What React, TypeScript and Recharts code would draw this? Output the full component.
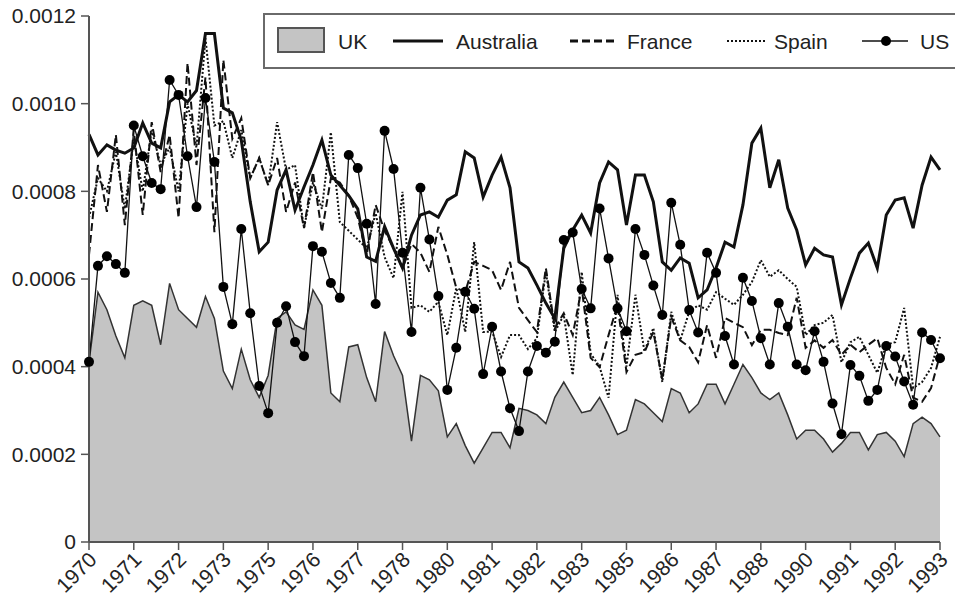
import { Area, ComposedChart, Legend, Line, XAxis, YAxis } from "recharts";

const FONT = "'Liberation Sans', Arial, Helvetica, sans-serif";

// quarterly observations, 1970 Q1 .. 1993 Q4 (one tick every 5 quarters)
const TICK_POS = [0, 5, 10, 15, 20, 25, 30, 35, 40, 45, 50, 55, 60, 65, 70, 75, 80, 85, 90, 95];
const TICK_LABELS = [
  "1970", "1971", "1972", "1973", "1975", "1976", "1977", "1978", "1980", "1981",
  "1982", "1983", "1985", "1986", "1987", "1988", "1990", "1991", "1992", "1993",
];
const Y_TICKS = [0, 0.0002, 0.0004, 0.0006, 0.0008, 0.001, 0.0012];

const UK = [
  0.00041, 0.00057, 0.00053, 0.00047, 0.00042, 0.00054, 0.00055, 0.00054, 0.00045, 0.00059,
  0.00053, 0.00051, 0.00049, 0.00056, 0.00051, 0.00039, 0.00035, 0.00044, 0.00037, 0.00033,
  0.00038, 0.00051, 0.000525, 0.000495, 0.000485, 0.000575, 0.00054, 0.00034, 0.00032, 0.000445,
  0.00045, 0.000375, 0.00032, 0.00048, 0.000425, 0.00038, 0.00023, 0.00038, 0.00037, 0.000345,
  0.00024, 0.00027, 0.00022, 0.00018, 0.000215, 0.00025, 0.00025, 0.000215, 0.000305, 0.0003,
  0.00029, 0.00027, 0.00033, 0.000365, 0.00033, 0.000295, 0.0003, 0.00033, 0.00029, 0.000245,
  0.000255, 0.000325, 0.000315, 0.000295, 0.000275, 0.00035, 0.00034, 0.000295, 0.000315, 0.00036,
  0.00036, 0.000315, 0.00036, 0.000405, 0.000375, 0.00034, 0.000325, 0.00034, 0.00029, 0.000235,
  0.000255, 0.000255, 0.000235, 0.000205, 0.000225, 0.00025, 0.00025, 0.00021, 0.000245, 0.00025,
  0.00023, 0.000195, 0.00027, 0.000285, 0.00027, 0.00024,
];

const AUSTRALIA = [
  0.00093, 0.000883, 0.000906, 0.000894, 0.000887, 0.000899, 0.000956, 0.00091, 0.000899, 0.001004,
  0.00102, 0.001004, 0.00103, 0.00116, 0.00116, 0.00099, 0.000979, 0.000917, 0.000776, 0.000662,
  0.000684, 0.000803, 0.000849, 0.000757, 0.00081, 0.00086, 0.000917, 0.000837, 0.000814, 0.00079,
  0.00076, 0.00065, 0.00064, 0.00072, 0.00067, 0.000625, 0.0007, 0.000746, 0.000753, 0.000741,
  0.00078, 0.000792, 0.00089, 0.000876, 0.000787, 0.000837, 0.000878, 0.000808, 0.000639, 0.000625,
  0.000586, 0.000545, 0.00051, 0.00067, 0.000712, 0.000746, 0.000705, 0.000819, 0.000867, 0.000849,
  0.000723, 0.000837, 0.000837, 0.000776, 0.000639, 0.00062, 0.000648, 0.000636, 0.000557, 0.000575,
  0.000625, 0.000684, 0.000673, 0.000769, 0.00091, 0.000944, 0.000808, 0.000872, 0.000762, 0.000712,
  0.000632, 0.00067, 0.000655, 0.00065, 0.000541, 0.000602, 0.000659, 0.000682, 0.000625, 0.000746,
  0.00078, 0.000785, 0.000716, 0.000814, 0.000878, 0.000849,
];

const FRANCE = [
  0.000655, 0.00086, 0.000753, 0.000929, 0.000723, 0.00094, 0.000746, 0.000958, 0.000844, 0.000929,
  0.000739, 0.001093, 0.00086, 0.00106, 0.000707, 0.0011, 0.00092, 0.000967, 0.00083, 0.000876,
  0.000814, 0.000876, 0.000753, 0.00082, 0.000716, 0.000844, 0.000707, 0.00083, 0.00082, 0.00079,
  0.00074, 0.000655, 0.000769, 0.00071, 0.00067, 0.000625, 0.00068, 0.00066, 0.000616, 0.000719,
  0.000655, 0.00058, 0.00057, 0.000639, 0.00063, 0.00062, 0.000575, 0.000639, 0.000534, 0.000506,
  0.000479, 0.000625, 0.000488, 0.000522, 0.000472, 0.00058, 0.00042, 0.000399, 0.000472, 0.000541,
  0.000388, 0.000427, 0.000433, 0.000479, 0.00037, 0.000513, 0.00046, 0.000445, 0.00041, 0.000495,
  0.00042, 0.000511, 0.0005, 0.00049, 0.000449, 0.000484, 0.000484, 0.000477, 0.000472, 0.000557,
  0.000443, 0.00046, 0.000443, 0.000461, 0.000427, 0.00045, 0.000433, 0.00045, 0.000465, 0.000397,
  0.00036, 0.000427, 0.000329, 0.00032, 0.000351, 0.000427,
];

const SPAIN = [
  0.00074, 0.00083, 0.0008, 0.00089, 0.00076, 0.00092, 0.0008, 0.00094, 0.00086, 0.0009,
  0.0008, 0.001, 0.0009, 0.00115, 0.00095, 0.00096, 0.000876, 0.00094, 0.00083, 0.000876,
  0.000814, 0.000958, 0.000849, 0.00086, 0.000716, 0.00082, 0.00076, 0.000935, 0.00073, 0.00071,
  0.00069, 0.00067, 0.00075, 0.00065, 0.000602, 0.000799, 0.000534, 0.00054, 0.000525, 0.000548,
  0.000472, 0.00058, 0.000479, 0.000684, 0.000479, 0.00048, 0.000422, 0.000472, 0.000472, 0.00044,
  0.000465, 0.000616, 0.000479, 0.000518, 0.000381, 0.000616, 0.00043, 0.0004, 0.000329, 0.000564,
  0.0004, 0.000564, 0.000435, 0.000488, 0.000365, 0.000525, 0.00046, 0.000525, 0.00054, 0.00053,
  0.00057, 0.000555, 0.000541, 0.000564, 0.000593, 0.000643, 0.000605, 0.00062, 0.0006, 0.000582,
  0.000472, 0.000495, 0.0005, 0.000518, 0.00041, 0.000456, 0.000468, 0.000427, 0.000386, 0.00045,
  0.000456, 0.000534, 0.000351, 0.000365, 0.000397, 0.000468,
];

const US = [
  0.000411, 0.00063, 0.000652, 0.000634, 0.000614, 0.00095, 0.00088, 0.000819, 0.000805, 0.001054,
  0.00102, 0.00088, 0.000764, 0.001013, 0.000867, 0.000582, 0.000497, 0.000714, 0.000522, 0.000356,
  0.000294, 0.0005, 0.000538, 0.000456, 0.000424, 0.000675, 0.000662, 0.000591, 0.000557, 0.000883,
  0.000853, 0.000726, 0.000543, 0.000938, 0.000851, 0.00066, 0.000479, 0.000808, 0.00069, 0.000561,
  0.000347, 0.000443, 0.000571, 0.000532, 0.000383, 0.000491, 0.000389, 0.000305, 0.000253, 0.000389,
  0.000447, 0.000432, 0.000457, 0.000689, 0.000706, 0.000577, 0.000533, 0.000761, 0.000647, 0.000533,
  0.000481, 0.000714, 0.000655, 0.000585, 0.000518, 0.000774, 0.000678, 0.000529, 0.000478, 0.00066,
  0.000614, 0.00047, 0.000405, 0.000603, 0.00055, 0.000465, 0.000405, 0.000545, 0.000491, 0.000405,
  0.000392, 0.000481, 0.000411, 0.000316, 0.000246, 0.000404, 0.000379, 0.000322, 0.000347, 0.000447,
  0.000423, 0.000366, 0.000313, 0.000478, 0.000461, 0.000419,
];

const rows = UK.map((uk, i) => ({
  i,
  uk,
  australia: AUSTRALIA[i],
  france: FRANCE[i],
  spain: SPAIN[i],
  us: US[i],
}));

function XTick({ x, y, payload }: any) {
  const label = TICK_LABELS[TICK_POS.indexOf(payload.value)];
  return (
    <g transform={`translate(${x + 9},${y + 9})`} opacity={0.99}>
      <text
        x={0}
        y={0}
        textAnchor="end"
        transform="rotate(-45)"
        fontSize={21}
        fontFamily={FONT}
        fill="#222"
      >
        {label}
      </text>
    </g>
  );
}

const legendText = (left: number, text: string) => (
  <span
    style={{
      position: "absolute",
      left,
      top: 14,
      lineHeight: "26px",
      fontSize: 21,
      color: "#222",
      whiteSpace: "nowrap",
    }}
  >
    {text}
  </span>
);

function LegendBox() {
  return (
    <div
      style={{
        position: "relative",
        width: 700,
        height: 56,
        border: "2px solid #6a6a6a",
        boxSizing: "border-box",
        background: "#fff",
        fontFamily: FONT,
      }}
    >
      <div
        style={{
          position: "absolute",
          left: 12,
          top: 12,
          width: 48,
          height: 26,
          background: "#c4c4c4",
          border: "2px solid #555",
          boxSizing: "border-box",
        }}
      />
      {legendText(73, "UK")}
      <svg style={{ position: "absolute", left: 128, top: 12 }} width={52} height={28}>
        <line x1={0} y1={14} x2={50} y2={14} stroke="#111" strokeWidth={3} />
      </svg>
      {legendText(191, "Australia")}
      <svg style={{ position: "absolute", left: 305, top: 12 }} width={50} height={28}>
        <line x1={0} y1={14} x2={46} y2={14} stroke="#111" strokeWidth={3} strokeDasharray="8 4" />
      </svg>
      {legendText(362, "France")}
      <svg style={{ position: "absolute", left: 462, top: 12 }} width={42} height={28}>
        <line x1={0} y1={14} x2={40} y2={14} stroke="#111" strokeWidth={2} strokeDasharray="2 2" />
      </svg>
      {legendText(509, "Spain")}
      <svg style={{ position: "absolute", left: 597, top: 12 }} width={50} height={28}>
        <line x1={0} y1={14} x2={46} y2={14} stroke="#111" strokeWidth={1.5} />
        <circle cx={24} cy={14} r={5} fill="#000" />
      </svg>
      {legendText(655, "US")}
    </div>
  );
}

export default function App() {
  return (
    <div
      style={{
        position: "absolute",
        left: 0,
        top: 0,
        width: 955,
        height: 603,
        overflow: "hidden",
        background: "#fff",
      }}
    >
      <ComposedChart
        width={955}
        height={603}
        data={rows}
        margin={{ top: 16, right: 15, bottom: 0, left: 0 }}
      >
        <XAxis
          dataKey="i"
          type="number"
          domain={[0, 95]}
          ticks={TICK_POS}
          interval={0}
          height={61}
          tickSize={8}
          tick={<XTick />}
          axisLine={{ stroke: "#555", strokeWidth: 2 }}
          tickLine={{ stroke: "#555", strokeWidth: 1.5 }}
        />
        <YAxis
          type="number"
          domain={[0, 0.0012]}
          ticks={Y_TICKS}
          interval={0}
          width={89}
          tickSize={8}
          tickMargin={5}
          tickFormatter={(v: number) => (v === 0 ? "0" : v.toFixed(4))}
          tick={{ fontSize: 21, fill: "#222", fontFamily: FONT }}
          axisLine={{ stroke: "#555", strokeWidth: 2 }}
          tickLine={{ stroke: "#555", strokeWidth: 1.5 }}
        />
        <Legend
          layout="horizontal"
          verticalAlign="middle"
          align="center"
          content={() => <LegendBox />}
          wrapperStyle={{ left: 263, top: 13, width: 700, height: 56 }}
        />
        <Area
          type="linear"
          dataKey="uk"
          name="UK"
          fill="#c4c4c4"
          fillOpacity={1}
          stroke="#333"
          strokeWidth={1.5}
          isAnimationActive={false}
          activeDot={false}
        />
        <Line
          type="linear"
          dataKey="australia"
          name="Australia"
          stroke="#111"
          strokeWidth={3}
          dot={false}
          activeDot={false}
          isAnimationActive={false}
        />
        <Line
          type="linear"
          dataKey="france"
          name="France"
          stroke="#111"
          strokeWidth={2}
          strokeDasharray="8 4"
          dot={false}
          activeDot={false}
          isAnimationActive={false}
        />
        <Line
          type="linear"
          dataKey="spain"
          name="Spain"
          stroke="#111"
          strokeWidth={2}
          strokeDasharray="2 2"
          dot={false}
          activeDot={false}
          isAnimationActive={false}
        />
        <Line
          type="linear"
          dataKey="us"
          name="US"
          stroke="#111"
          strokeWidth={1.3}
          dot={{ r: 5, fill: "#000", stroke: "#000", strokeWidth: 0 }}
          activeDot={false}
          isAnimationActive={false}
        />
      </ComposedChart>
    </div>
  );
}
